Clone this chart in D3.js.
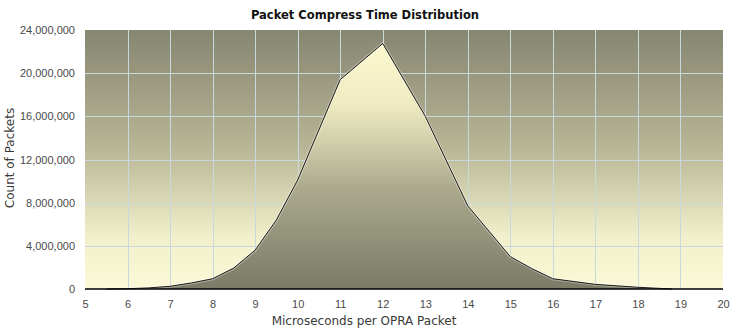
<!DOCTYPE html>
<html>
<head>
<meta charset="utf-8">
<script src="https://cdn.jsdelivr.net/npm/d3@7"></script>
<style>
  html, body { margin: 0; padding: 0; background: #ffffff; }
  svg { display: block; }
</style>
</head>
<body>
<svg id="chart" width="738" height="332"></svg>
<script>
// Packet compression time histogram (microseconds per OPRA packet)
const microseconds = [5.5, 6, 6.5, 7, 7.5, 8, 8.5, 9, 9.5, 10, 11, 12, 13, 14, 15, 15.5, 16, 17, 18, 18.8];
const packetCounts = [0, 30000, 100000, 250000, 560000, 950000, 1950000, 3600000, 6400000, 10100000,
                      19400000, 22750000, 16000000, 7700000, 3000000, 1900000, 950000, 430000, 160000, 0];
const xTicks = [5, 6, 7, 8, 9, 10, 11, 12, 13, 14, 15, 16, 17, 18, 19, 20];
const yTicks = [0, 4000000, 8000000, 12000000, 16000000, 20000000, 24000000];

const titleText = "Packet Compress Time Distribution";
const xTitle = "Microseconds per OPRA Packet";
const yTitle = "Count of Packets";

const svg = d3.select("#chart");
const margin = { left: 85, right: 15, top: 30, bottom: 43 };
const W = 738, H = 332;
const pw = W - margin.left - margin.right;
const ph = H - margin.top - margin.bottom;

const x = d3.scaleLinear().domain([5, 20]).range([margin.left, margin.left + pw]);
const y = d3.scaleLinear().domain([0, 24000000]).range([margin.top + ph, margin.top]);

const defs = svg.append("defs");
const bg = defs.append("linearGradient").attr("id", "bgGrad")
  .attr("x1", 0).attr("y1", 0).attr("x2", 0).attr("y2", 1);
bg.append("stop").attr("offset", "0%").attr("stop-color", "#878671");
bg.append("stop").attr("offset", "45%").attr("stop-color", "#b7b595");
bg.append("stop").attr("offset", "80%").attr("stop-color", "#f2efcc");
bg.append("stop").attr("offset", "100%").attr("stop-color", "#fcf9d8");

const ag = defs.append("linearGradient").attr("id", "areaGrad")
  .attr("x1", 0).attr("y1", 0).attr("x2", 0).attr("y2", 1);
ag.append("stop").attr("offset", "0%").attr("stop-color", "#fcf9cf");
ag.append("stop").attr("offset", "25%").attr("stop-color", "#eeebc2");
ag.append("stop").attr("offset", "60%").attr("stop-color", "#a9a88c");
ag.append("stop").attr("offset", "100%").attr("stop-color", "#7b7b67");

// plot background
svg.append("rect")
  .attr("x", margin.left).attr("y", margin.top)
  .attr("width", pw).attr("height", ph)
  .attr("fill", "url(#bgGrad)");

// grid
const grid = svg.append("g").attr("stroke", "#c9d8dd").attr("stroke-width", 1);
grid.selectAll("line.v").data(xTicks.filter(d => d > 5 && d < 20)).join("line")
  .attr("class", "v")
  .attr("x1", d => Math.round(x(d)) + 0.5).attr("x2", d => Math.round(x(d)) + 0.5)
  .attr("y1", margin.top).attr("y2", margin.top + ph);
grid.selectAll("line.h").data(yTicks.filter(d => d > 0 && d < 24000000)).join("line")
  .attr("class", "h")
  .attr("y1", d => Math.round(y(d)) + 0.5).attr("y2", d => Math.round(y(d)) + 0.5)
  .attr("x1", margin.left).attr("x2", margin.left + pw);

const pts = microseconds.map((m, i) => [m, packetCounts[i]]);

const area = d3.area().x(d => x(d[0])).y0(y(0)).y1(d => y(d[1]));
const line = d3.line().x(d => x(d[0])).y(d => y(d[1]));

svg.append("path").datum(pts)
  .attr("d", area)
  .attr("fill", "url(#areaGrad)");

// soft halo then outline
svg.append("path").datum(pts)
  .attr("d", line)
  .attr("fill", "none")
  .attr("stroke", "#ffffff")
  .attr("stroke-opacity", 0.35)
  .attr("stroke-width", 3);
svg.append("path").datum(pts)
  .attr("d", line)
  .attr("fill", "none")
  .attr("stroke", "#1a1a14")
  .attr("stroke-width", 1);

// baseline axis
svg.append("line")
  .attr("x1", margin.left).attr("x2", margin.left + pw)
  .attr("y1", y(0)).attr("y2", y(0))
  .attr("stroke", "#000").attr("stroke-width", 1.6);

const fmt = d3.format(",");

// y axis labels
const yAxis = d3.axisLeft(y).tickValues(yTicks).tickFormat(fmt).tickSize(0).tickPadding(10);
const yg = svg.append("g").attr("transform", `translate(${margin.left},0)`).call(yAxis);
yg.select(".domain").remove();
yg.selectAll("text")
  .attr("font-family", "'Liberation Sans', Arial, sans-serif")
  .attr("font-size", 11)
  .attr("fill", "#4a4a4a");

// x axis labels
const xAxis = d3.axisBottom(x).tickValues(xTicks).tickFormat(d3.format("d")).tickSize(0).tickPadding(11);
const xg = svg.append("g").attr("transform", `translate(0,${margin.top + ph})`).call(xAxis);
xg.select(".domain").remove();
xg.selectAll("text")
  .attr("font-family", "'Liberation Sans', Arial, sans-serif")
  .attr("font-size", 11)
  .attr("fill", "#4a4a4a");

// titles
svg.append("text")
  .attr("x", 365).attr("y", 19)
  .attr("text-anchor", "middle")
  .attr("font-family", "'DejaVu Sans', Verdana, sans-serif")
  .attr("font-weight", "bold")
  .attr("font-size", 11.5)
  .attr("fill", "#111")
  .text(titleText);

svg.append("text")
  .attr("x", 364).attr("y", 325)
  .attr("text-anchor", "middle")
  .attr("font-family", "'DejaVu Sans', Verdana, sans-serif")
  .attr("font-size", 12)
  .attr("fill", "#3a3a3a")
  .text(xTitle);

svg.append("text")
  .attr("transform", "translate(14,158) rotate(-90)")
  .attr("text-anchor", "middle")
  .attr("font-family", "'DejaVu Sans', Verdana, sans-serif")
  .attr("font-size", 12)
  .attr("fill", "#3a3a3a")
  .text(yTitle);
</script>
</body>
</html>
